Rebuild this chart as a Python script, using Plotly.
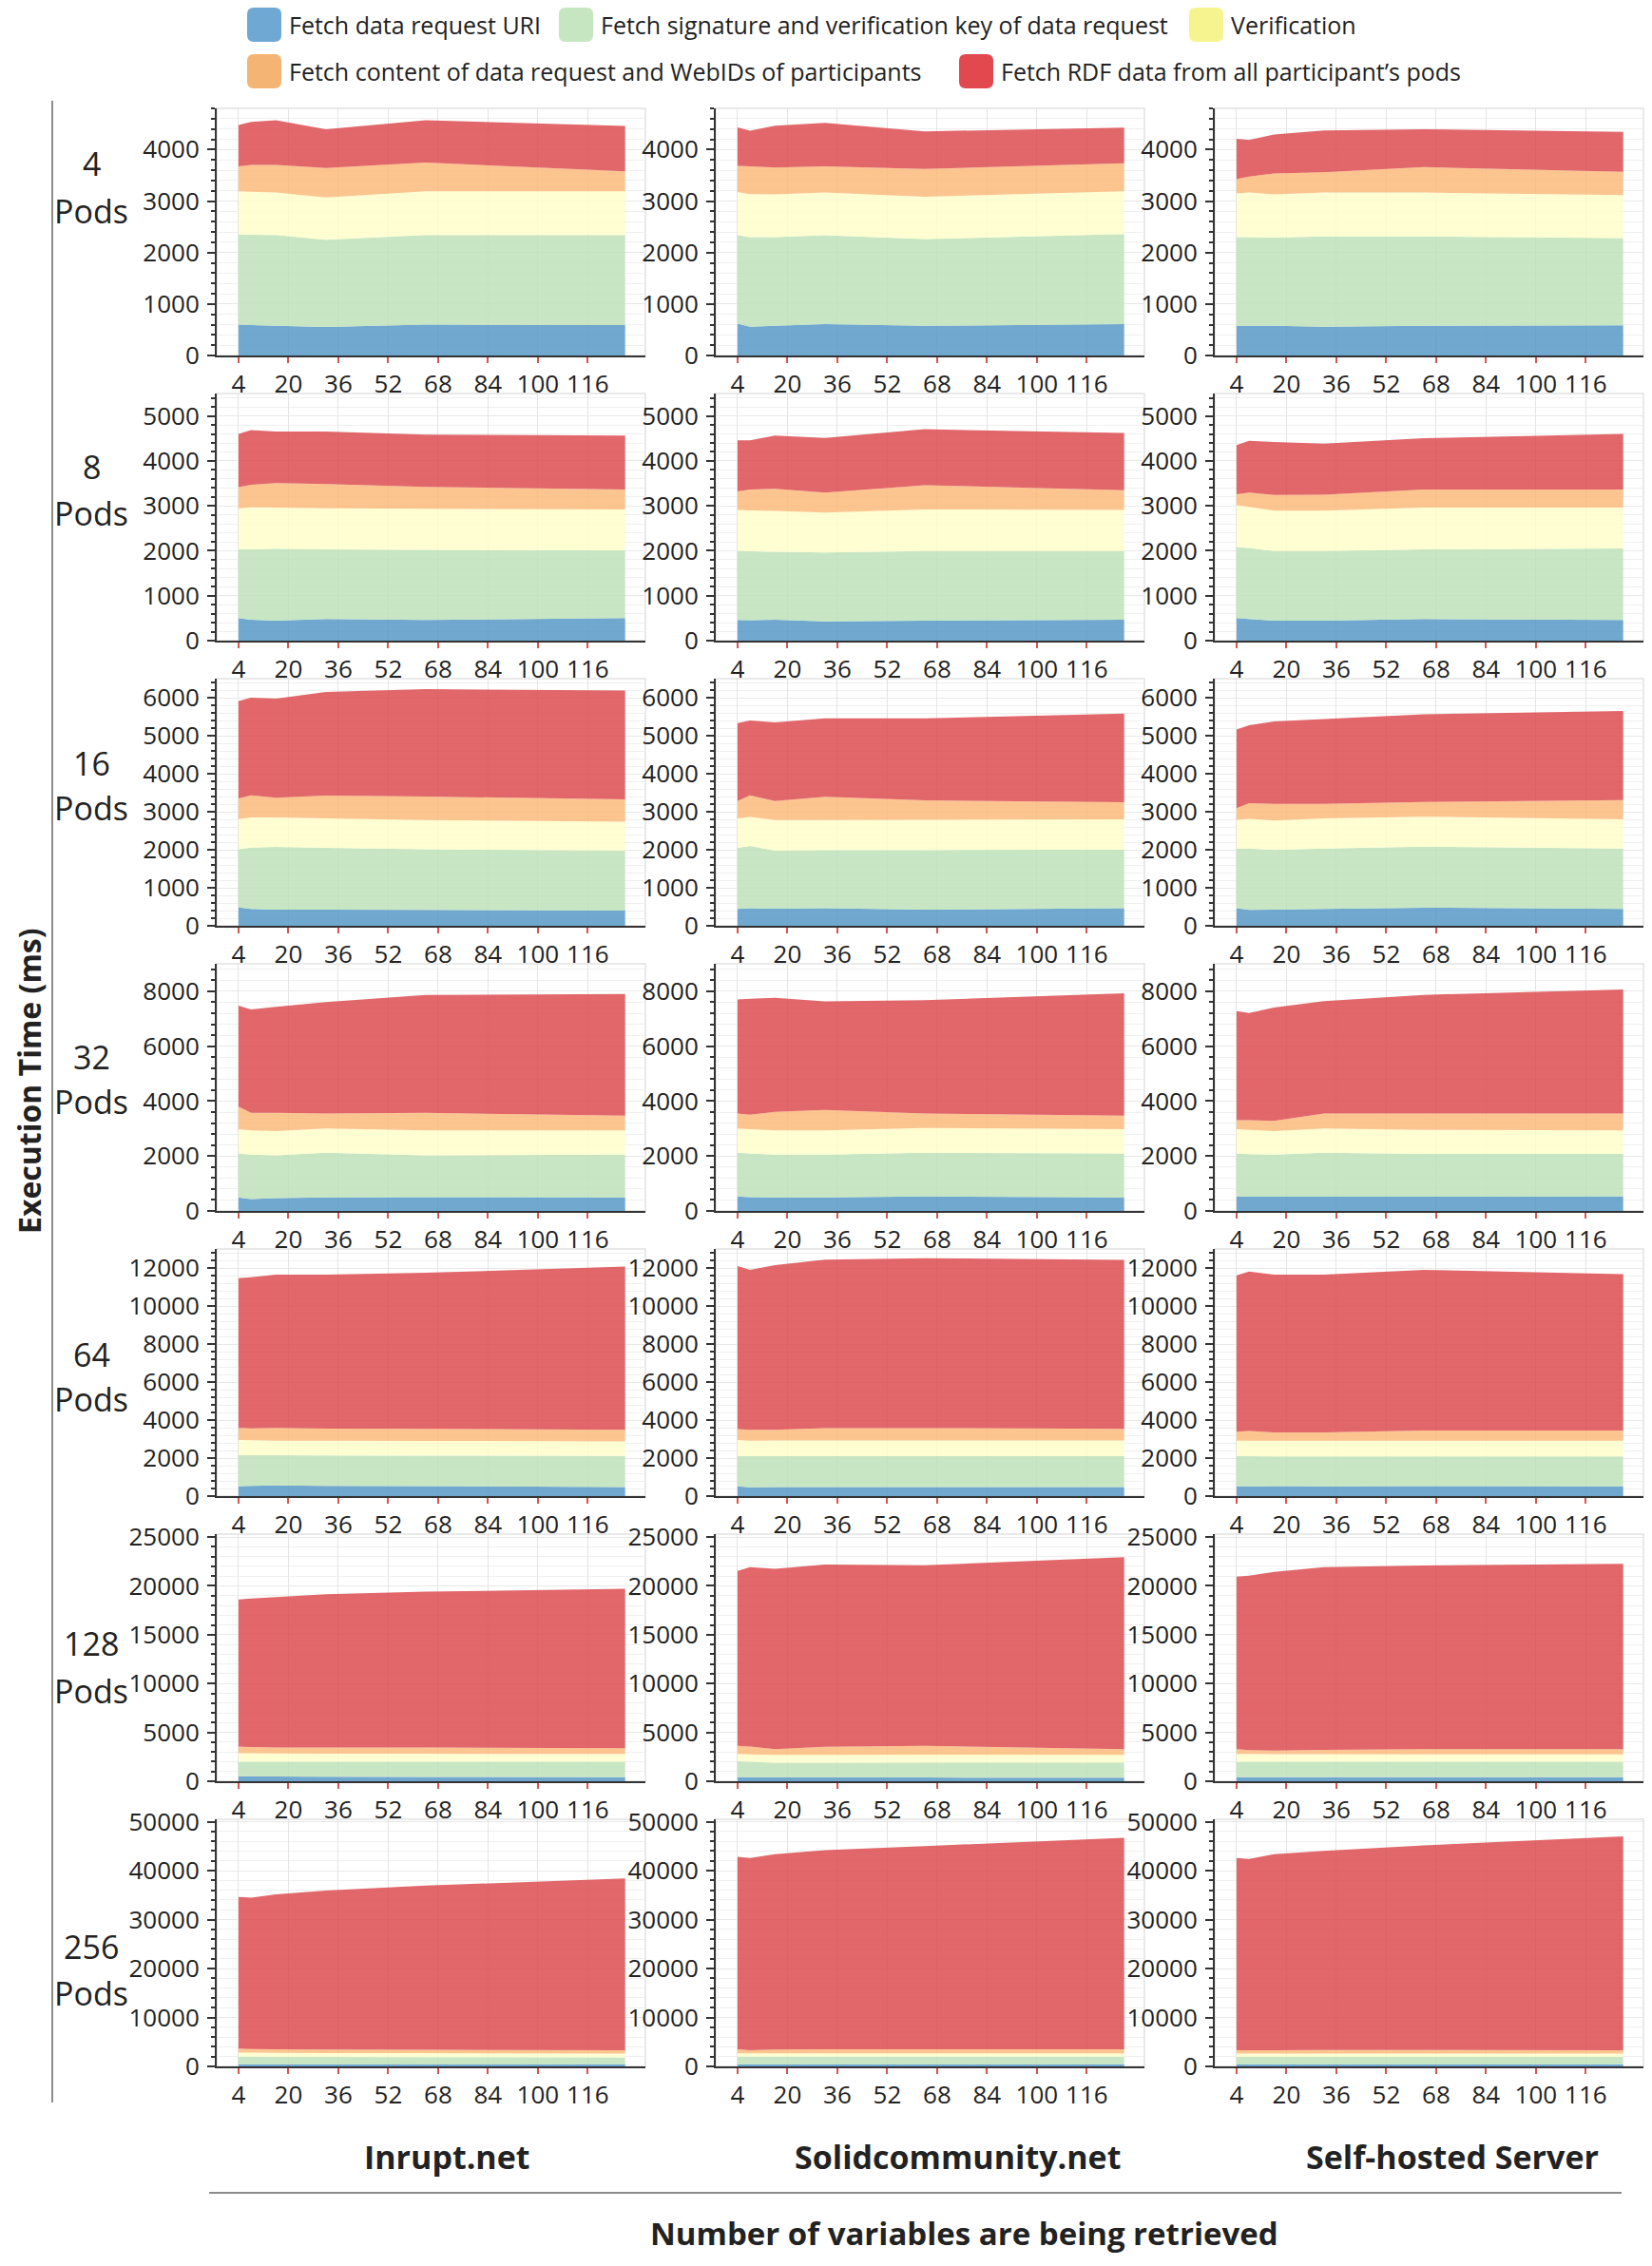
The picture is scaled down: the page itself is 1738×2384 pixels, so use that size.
import plotly.graph_objects as go

# ---------------- data ----------------
X_VARS = [4, 8, 16, 32, 64, 128]
X_TICKS = [4, 20, 36, 52, 68, 84, 100, 116]
PODS = ["4", "8", "16", "32", "64", "128", "256"]
SERVERS = ["Inrupt.net", "Solidcommunity.net", "Self-hosted Server"]
LAYER_NAMES = [
    "Fetch data request URI",
    "Fetch signature and verification key of data request",
    "Verification",
    "Fetch content of data request and WebIDs of participants",
    "Fetch RDF data from all participant\u2019s pods",
]
Y_TICK_STEP = [1000, 1000, 1000, 2000, 2000, 5000, 10000]
Y_MAX = [4800, 5500, 6500, 9000, 13000, 25300, 50500]

# one list per pod count (rows), six values per list (x = X_VARS)
INRUPT_URI = [[600, 590, 575, 555, 600, 590], [500, 465, 445, 480, 460, 500], [485, 445, 425, 425, 418, 400],
              [490, 437, 463, 490, 503, 490], [518, 540, 557, 540, 520, 480], [520, 500, 480, 460, 440, 420],
              [460, 450, 450, 440, 440, 430]]
INRUPT_SIG = [[1753, 1755, 1765, 1693, 1740, 1750], [1530, 1565, 1600, 1550, 1560, 1510], [1528, 1610, 1647, 1622, 1595, 1572],
              [1600, 1613, 1561, 1626, 1521, 1560], [1632, 1610, 1593, 1600, 1610, 1631], [1470, 1490, 1510, 1530, 1550, 1570],
              [1520, 1520, 1500, 1480, 1450, 1420]]
INRUPT_VER = [[836, 835, 824, 823, 849, 849], [915, 935, 915, 915, 915, 910], [794, 793, 776, 776, 769, 768],
              [886, 887, 886, 887, 913, 887], [806, 790, 767, 770, 770, 768], [880, 870, 850, 840, 820, 810],
              [860, 830, 820, 810, 810, 790]]
INRUPT_CONT = [[483, 523, 539, 570, 557, 390], [470, 505, 545, 540, 485, 445], [543, 585, 518, 602, 618, 585],
               [820, 634, 661, 542, 634, 529], [633, 620, 672, 641, 632, 614], [680, 640, 610, 630, 640, 590],
               [790, 760, 730, 720, 700, 660]]
INRUPT_RDF = [[805, 836, 867, 755, 824, 879], [1185, 1215, 1150, 1170, 1165, 1200], [2564, 2565, 2607, 2723, 2824, 2865],
              [3678, 3770, 3863, 4061, 4299, 4431], [7870, 7957, 8062, 8100, 8215, 8580], [15050, 15200, 15410, 15690, 15960, 16310],
              [31000, 30940, 31660, 32500, 33540, 35090]]

SOLID_URI = [[620, 557, 575, 607, 575, 607], [460, 455, 465, 430, 445, 465], [445, 460, 450, 460, 425, 460],
             [530, 503, 495, 490, 530, 490], [517, 460, 480, 480, 480, 480], [420, 410, 400, 390, 380, 360],
             [460, 455, 460, 455, 460, 460]]
SOLID_SIG = [[1720, 1740, 1722, 1727, 1685, 1752], [1535, 1535, 1515, 1530, 1550, 1530], [1602, 1637, 1522, 1528, 1563, 1548],
             [1586, 1587, 1555, 1560, 1586, 1600], [1588, 1640, 1620, 1625, 1625, 1625], [1630, 1590, 1490, 1510, 1540, 1560],
             [1530, 1535, 1530, 1535, 1530, 1530]]
SOLID_VER = [[836, 836, 830, 830, 824, 830], [915, 910, 910, 890, 925, 915], [776, 768, 810, 794, 802, 795],
             [887, 886, 887, 887, 900, 886], [842, 809, 820, 825, 825, 815], [750, 760, 810, 810, 800, 780],
             [660, 660, 660, 660, 660, 660]]
SOLID_CONT = [[508, 539, 526, 508, 538, 545], [410, 465, 490, 445, 540, 440], [460, 568, 501, 610, 510, 444],
              [542, 529, 674, 740, 529, 490], [575, 574, 563, 649, 649, 621], [820, 790, 590, 810, 900, 590],
              [860, 660, 800, 850, 850, 860]]
SOLID_RDF = [[749, 693, 811, 848, 731, 693], [1140, 1095, 1185, 1215, 1245, 1270], [2047, 1964, 2064, 2063, 2155, 2335],
             [4153, 4220, 4154, 3955, 4127, 4457], [8574, 8421, 8670, 8861, 8938, 8880], [17910, 18370, 18470, 18660, 18500, 19640],
             [39340, 39270, 39930, 40670, 41530, 43180]]

SELF_URI = [[575, 575, 575, 557, 575, 588], [500, 480, 445, 445, 480, 460], [460, 418, 425, 443, 477, 443],
            [530, 520, 520, 520, 520, 530], [517, 505, 520, 510, 525, 517], [420, 415, 425, 420, 410, 420],
            [460, 460, 460, 460, 460, 460]]
SELF_SIG = [[1722, 1725, 1716, 1753, 1735, 1691], [1585, 1580, 1550, 1550, 1550, 1590], [1573, 1615, 1567, 1590, 1607, 1590],
            [1560, 1550, 1530, 1596, 1557, 1547], [1583, 1590, 1570, 1580, 1565, 1569], [1570, 1575, 1565, 1570, 1580, 1570],
            [1500, 1500, 1500, 1500, 1500, 1500]]
SELF_VER = [[849, 864, 836, 854, 854, 836], [930, 920, 900, 900, 930, 910], [754, 779, 778, 795, 786, 770],
            [886, 880, 860, 887, 873, 860], [809, 814, 819, 819, 819, 823], [810, 800, 790, 780, 770, 750],
            [680, 680, 680, 680, 680, 680]]
SELF_CONT = [[278, 310, 409, 396, 495, 451], [245, 315, 345, 350, 405, 405], [309, 410, 435, 377, 385, 502],
             [331, 357, 370, 542, 595, 608], [479, 517, 440, 440, 536, 536], [490, 400, 350, 450, 530, 550],
             [670, 650, 680, 690, 690, 670]]
SELF_RDF = [[786, 712, 755, 812, 737, 775], [1090, 1150, 1180, 1140, 1140, 1235], [2067, 2050, 2167, 2234, 2310, 2344],
            [3968, 3902, 4127, 4100, 4325, 4524], [8229, 8382, 8306, 8306, 8459, 8229], [17650, 17850, 18300, 18700, 18790, 18960],
            [39270, 39090, 40060, 40710, 41830, 43710]]

SERVER_DATA = [
    [INRUPT_URI, INRUPT_SIG, INRUPT_VER, INRUPT_CONT, INRUPT_RDF],
    [SOLID_URI, SOLID_SIG, SOLID_VER, SOLID_CONT, SOLID_RDF],
    [SELF_URI, SELF_SIG, SELF_VER, SELF_CONT, SELF_RDF],
]

# ---------------- style ----------------
PAGE_W, PAGE_H = 1738, 2384
BODY_MARGIN = 8                       # default page margin around the figure div
W, H = PAGE_W - 2 * BODY_MARGIN, PAGE_H - 2 * BODY_MARGIN
FONT = "Open Sans"
FILL = ["rgba(88,153,200,0.85)", "rgba(190,226,184,0.85)", "rgba(254,254,202,0.85)",
        "rgba(251,187,124,0.85)", "rgba(221,76,81,0.85)"]
SWATCH = ["#6fa8d2", "#c6e6c1", "#f6f48f", "#f4b474", "#e2494f"]

COL_LEFT = [228, 753, 1278]
COL_WIDTH = 451
ROW_TOP0, ROW_PITCH, ROW_HEIGHT = 114, 300, 260


def px(x):
    return (x - BODY_MARGIN) / W


def py(y):
    return 1 - (y - BODY_MARGIN) / H


def tfont(size, bold=False):
    d = dict(family=FONT, size=size, color="#222222")
    if bold:
        d["weight"] = "bold"
    return d


fig = go.Figure()
layout_axes = {}
shapes = []
annotations = []

for r in range(len(PODS)):
    for c in range(len(SERVERS)):
        idx = r * 3 + c + 1
        xa = "x" if idx == 1 else f"x{idx}"
        ya = "y" if idx == 1 else f"y{idx}"
        for k in range(5):
            fig.add_trace(go.Scatter(
                x=X_VARS, y=SERVER_DATA[c][k][r], stackgroup=f"g{idx}", mode="none",
                fillcolor=FILL[k], name=LAYER_NAMES[k], showlegend=False,
                xaxis=xa, yaxis=ya, hoverinfo="x+y+name"))
        top = ROW_TOP0 + r * ROW_PITCH
        bottom = top + ROW_HEIGHT
        xname = "xaxis" if idx == 1 else f"xaxis{idx}"
        yname = "yaxis" if idx == 1 else f"yaxis{idx}"
        layout_axes[xname] = dict(
            domain=[px(COL_LEFT[c]), px(COL_LEFT[c] + COL_WIDTH)], anchor=ya,
            range=[-3, 134.5], tickmode="array", tickvals=X_TICKS,
            ticks="outside", tickcolor="#d9534f", ticklen=6, tickwidth=1.5,
            showline=True, linecolor="#333333", linewidth=2, automargin=False,
            showgrid=True, gridcolor="#e4e4e4", gridwidth=1, zeroline=False,
            tickfont=tfont(26))
        step = Y_TICK_STEP[r]
        layout_axes[yname] = dict(
            domain=[py(bottom), py(top)], anchor=xa,
            range=[0, Y_MAX[r]], tick0=0, dtick=step, tickformat="d",
            ticks="outside", ticklen=8, tickwidth=1.5, tickcolor="#333333",
            showline=True, linecolor="#333333", linewidth=2, automargin=False,
            showgrid=True, gridcolor="#e8e8e8", zeroline=False,
            minor=dict(dtick=step / 5, ticks="outside", ticklen=4, tickcolor="#333333",
                       showgrid=True, gridcolor="#efefef"),
            ticklabelstandoff=3,
            tickfont=tfont(26))
        shapes.append(dict(type="rect", xref=f"{xa} domain", yref=f"{ya} domain",
                           x0=0, x1=1, y0=0, y1=1, line=dict(color="#e2e2e2", width=1.5),
                           layer="below"))

# row labels
ROW_NUM_Y = [172, 491, 803, 1112, 1425, 1729, 2048]
ROW_PODS_Y = [222, 540, 850, 1159, 1472, 1779, 2097]
for r, pods in enumerate(PODS):
    annotations.append(dict(text=pods, x=px(96), y=py(ROW_NUM_Y[r]), xref="paper", yref="paper",
                            showarrow=False, xanchor="center", yanchor="middle", font=tfont(34)))
    annotations.append(dict(text="Pods", x=px(96), y=py(ROW_PODS_Y[r]), xref="paper", yref="paper",
                            showarrow=False, xanchor="center", yanchor="middle", font=tfont(34)))

# column labels
COL_LABEL_X = [470, 1007, 1528]
for c, s in enumerate(SERVERS):
    annotations.append(dict(text=s, x=px(COL_LABEL_X[c]), y=py(2269), xref="paper", yref="paper",
                            showarrow=False, xanchor="center", yanchor="middle", font=tfont(34, True)))

annotations.append(dict(text="Number of variables are being retrieved", x=px(1014), y=py(2349),
                        xref="paper", yref="paper", showarrow=False, xanchor="center", yanchor="middle",
                        font=tfont(33, True)))
annotations.append(dict(text="Execution Time (ms)", x=px(30), y=py(1137), textangle=-90,
                        xref="paper", yref="paper", showarrow=False, xanchor="center", yanchor="middle",
                        font=tfont(32, True)))

# frame lines
shapes.append(dict(type="line", xref="paper", yref="paper", x0=px(55), x1=px(55), y0=py(106), y1=py(2212),
                   line=dict(color="#8c8c8c", width=2)))
shapes.append(dict(type="line", xref="paper", yref="paper", x0=px(220), x1=px(1706), y0=py(2307), y1=py(2307),
                   line=dict(color="#8c8c8c", width=2)))

# custom legend (rounded swatches + labels)
LEG_POS = [(260, 26), (588, 26), (1251, 26), (260, 75), (1009, 75)]
SW, SH, RAD = 36, 36, 7
for k, (lx, ly) in enumerate(LEG_POS):
    x0, x1 = lx, lx + SW
    y0, y1 = ly - SH / 2, ly + SH / 2
    pts = (f"M {px(x0 + RAD)},{py(y0)} L {px(x1 - RAD)},{py(y0)} Q {px(x1)},{py(y0)} {px(x1)},{py(y0 + RAD)} "
           f"L {px(x1)},{py(y1 - RAD)} Q {px(x1)},{py(y1)} {px(x1 - RAD)},{py(y1)} "
           f"L {px(x0 + RAD)},{py(y1)} Q {px(x0)},{py(y1)} {px(x0)},{py(y1 - RAD)} "
           f"L {px(x0)},{py(y0 + RAD)} Q {px(x0)},{py(y0)} {px(x0 + RAD)},{py(y0)} Z")
    shapes.append(dict(type="path", xref="paper", yref="paper", path=pts,
                       fillcolor=SWATCH[k], line=dict(width=0)))
    annotations.append(dict(text=LAYER_NAMES[k], x=px(x1 + 6), y=py(ly), xref="paper", yref="paper",
                            showarrow=False, xanchor="left", yanchor="middle", font=tfont(25)))

fig.update_layout(
    width=W, height=H, margin=dict(l=0, r=0, t=0, b=0, pad=0, autoexpand=False),
    paper_bgcolor="white", plot_bgcolor="white",
    showlegend=False, shapes=shapes, annotations=annotations,
    font=dict(family=FONT, color="#222222"),
    **layout_axes)

fig.write_html("out.html")
